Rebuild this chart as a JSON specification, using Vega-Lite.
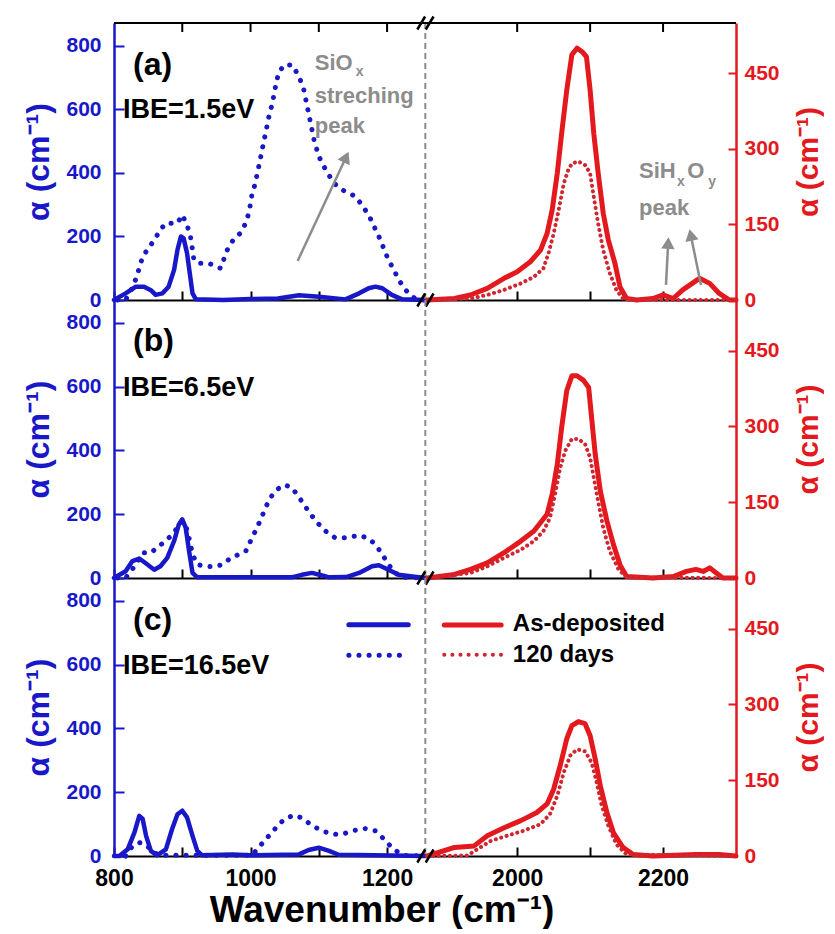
{
"$schema":"https://vega.github.io/schema/vega-lite/v6.json",
"background":"white",
"padding":{"left":22,"top":11,"right":0,"bottom":0},
"spacing":0,
"columns":2,
"bounds":"flush",
"config":{"view":{"stroke":null},"axis":{"grid":false,"labelFlush":false,"labelFont":"Liberation Sans","titleFont":"Liberation Sans","labelFontWeight":"bold","titleFontWeight":"bold","labelOverlap":false},"text":{"font":"Liberation Sans","fontWeight":"bold"},"concat":{"spacing":0}},
"title":{"text":"Wavenumber (cm⁻¹)","orient":"bottom","anchor":"middle","font":"Liberation Sans","fontWeight":"bold","fontSize":37,"color":"#000","offset":3,"dx":-41},
"datasets":{
"a_left_asdep":[{"wn":800,"alpha":0},{"wn":817,"alpha":21},{"wn":832,"alpha":42},{"wn":844,"alpha":42},{"wn":854,"alpha":31},{"wn":861,"alpha":16},{"wn":871,"alpha":21},{"wn":880,"alpha":42},{"wn":888,"alpha":95},{"wn":893,"alpha":158},{"wn":898,"alpha":200},{"wn":902,"alpha":194},{"wn":907,"alpha":147},{"wn":911,"alpha":84},{"wn":915,"alpha":21},{"wn":920,"alpha":2},{"wn":960,"alpha":0},{"wn":1000,"alpha":3},{"wn":1040,"alpha":5},{"wn":1071,"alpha":15},{"wn":1100,"alpha":10},{"wn":1139,"alpha":2},{"wn":1159,"alpha":21},{"wn":1173,"alpha":37},{"wn":1183,"alpha":42},{"wn":1193,"alpha":37},{"wn":1207,"alpha":16},{"wn":1222,"alpha":2},{"wn":1257,"alpha":0}],
"a_left_120d":[{"wn":805,"alpha":0},{"wn":817,"alpha":0},{"wn":829,"alpha":47},{"wn":837,"alpha":100},{"wn":842,"alpha":137},{"wn":849,"alpha":158},{"wn":859,"alpha":189},{"wn":868,"alpha":221},{"wn":876,"alpha":242},{"wn":885,"alpha":242},{"wn":893,"alpha":242},{"wn":900,"alpha":268},{"wn":907,"alpha":236},{"wn":912,"alpha":200},{"wn":915,"alpha":158},{"wn":917,"alpha":126},{"wn":924,"alpha":116},{"wn":937,"alpha":116},{"wn":946,"alpha":110},{"wn":956,"alpha":100},{"wn":966,"alpha":158},{"wn":976,"alpha":194},{"wn":985,"alpha":210},{"wn":993,"alpha":242},{"wn":998,"alpha":278},{"wn":1002,"alpha":331},{"wn":1007,"alpha":368},{"wn":1012,"alpha":420},{"wn":1017,"alpha":473},{"wn":1022,"alpha":525},{"wn":1027,"alpha":578},{"wn":1032,"alpha":620},{"wn":1037,"alpha":677},{"wn":1041,"alpha":714},{"wn":1049,"alpha":740},{"wn":1061,"alpha":740},{"wn":1071,"alpha":704},{"wn":1078,"alpha":662},{"wn":1083,"alpha":609},{"wn":1088,"alpha":557},{"wn":1093,"alpha":504},{"wn":1100,"alpha":452},{"wn":1110,"alpha":410},{"wn":1122,"alpha":368},{"wn":1134,"alpha":347},{"wn":1144,"alpha":336},{"wn":1154,"alpha":326},{"wn":1163,"alpha":299},{"wn":1173,"alpha":268},{"wn":1180,"alpha":236},{"wn":1188,"alpha":200},{"wn":1195,"alpha":163},{"wn":1202,"alpha":126},{"wn":1210,"alpha":95},{"wn":1217,"alpha":63},{"wn":1227,"alpha":32},{"wn":1237,"alpha":10},{"wn":1246,"alpha":0},{"wn":1257,"alpha":0}],
"a_right_asdep":[{"wn":1877,"alpha":0},{"wn":1914,"alpha":3},{"wn":1936,"alpha":10},{"wn":1959,"alpha":23},{"wn":1982,"alpha":43},{"wn":2000,"alpha":56},{"wn":2018,"alpha":76},{"wn":2032,"alpha":99},{"wn":2041,"alpha":132},{"wn":2048,"alpha":179},{"wn":2055,"alpha":252},{"wn":2061,"alpha":331},{"wn":2068,"alpha":417},{"wn":2075,"alpha":487},{"wn":2082,"alpha":500},{"wn":2089,"alpha":493},{"wn":2095,"alpha":483},{"wn":2100,"alpha":417},{"wn":2105,"alpha":331},{"wn":2111,"alpha":252},{"wn":2118,"alpha":172},{"wn":2125,"alpha":119},{"wn":2134,"alpha":73},{"wn":2141,"alpha":26},{"wn":2150,"alpha":3},{"wn":2164,"alpha":0},{"wn":2186,"alpha":3},{"wn":2200,"alpha":10},{"wn":2214,"alpha":3},{"wn":2227,"alpha":20},{"wn":2250,"alpha":43},{"wn":2264,"alpha":33},{"wn":2277,"alpha":13},{"wn":2291,"alpha":0},{"wn":2300,"alpha":0}],
"a_right_120d":[{"wn":1877,"alpha":0},{"wn":1936,"alpha":3},{"wn":1959,"alpha":10},{"wn":1982,"alpha":20},{"wn":2005,"alpha":33},{"wn":2023,"alpha":46},{"wn":2036,"alpha":63},{"wn":2043,"alpha":93},{"wn":2050,"alpha":132},{"wn":2057,"alpha":179},{"wn":2064,"alpha":232},{"wn":2070,"alpha":258},{"wn":2075,"alpha":271},{"wn":2084,"alpha":275},{"wn":2093,"alpha":268},{"wn":2100,"alpha":252},{"wn":2105,"alpha":205},{"wn":2111,"alpha":152},{"wn":2118,"alpha":99},{"wn":2127,"alpha":53},{"wn":2136,"alpha":20},{"wn":2145,"alpha":3},{"wn":2159,"alpha":0},{"wn":2300,"alpha":0}],
"b_left_asdep":[{"wn":800,"alpha":0},{"wn":817,"alpha":21},{"wn":827,"alpha":53},{"wn":837,"alpha":61},{"wn":846,"alpha":47},{"wn":859,"alpha":26},{"wn":868,"alpha":37},{"wn":878,"alpha":63},{"wn":888,"alpha":116},{"wn":895,"alpha":168},{"wn":900,"alpha":184},{"wn":905,"alpha":158},{"wn":910,"alpha":84},{"wn":915,"alpha":16},{"wn":922,"alpha":2},{"wn":1000,"alpha":2},{"wn":1060,"alpha":2},{"wn":1075,"alpha":10},{"wn":1090,"alpha":16},{"wn":1105,"alpha":8},{"wn":1115,"alpha":2},{"wn":1140,"alpha":3},{"wn":1159,"alpha":16},{"wn":1178,"alpha":37},{"wn":1188,"alpha":40},{"wn":1202,"alpha":26},{"wn":1217,"alpha":10},{"wn":1237,"alpha":5},{"wn":1257,"alpha":0}],
"b_left_120d":[{"wn":805,"alpha":0},{"wn":817,"alpha":0},{"wn":832,"alpha":42},{"wn":842,"alpha":79},{"wn":854,"alpha":79},{"wn":866,"alpha":100},{"wn":878,"alpha":121},{"wn":888,"alpha":142},{"wn":895,"alpha":168},{"wn":900,"alpha":179},{"wn":906,"alpha":158},{"wn":911,"alpha":116},{"wn":915,"alpha":74},{"wn":922,"alpha":42},{"wn":934,"alpha":37},{"wn":946,"alpha":35},{"wn":959,"alpha":42},{"wn":971,"alpha":63},{"wn":983,"alpha":74},{"wn":993,"alpha":84},{"wn":1000,"alpha":116},{"wn":1007,"alpha":147},{"wn":1015,"alpha":184},{"wn":1022,"alpha":221},{"wn":1029,"alpha":252},{"wn":1039,"alpha":278},{"wn":1049,"alpha":292},{"wn":1059,"alpha":286},{"wn":1068,"alpha":263},{"wn":1078,"alpha":231},{"wn":1088,"alpha":200},{"wn":1098,"alpha":173},{"wn":1110,"alpha":147},{"wn":1124,"alpha":126},{"wn":1139,"alpha":126},{"wn":1159,"alpha":134},{"wn":1173,"alpha":124},{"wn":1183,"alpha":105},{"wn":1193,"alpha":74},{"wn":1202,"alpha":42},{"wn":1212,"alpha":16},{"wn":1222,"alpha":2},{"wn":1257,"alpha":0}],
"b_right_asdep":[{"wn":1877,"alpha":0},{"wn":1914,"alpha":7},{"wn":1936,"alpha":17},{"wn":1959,"alpha":30},{"wn":1982,"alpha":50},{"wn":2005,"alpha":73},{"wn":2023,"alpha":93},{"wn":2041,"alpha":126},{"wn":2048,"alpha":166},{"wn":2055,"alpha":225},{"wn":2061,"alpha":298},{"wn":2068,"alpha":371},{"wn":2075,"alpha":400},{"wn":2082,"alpha":400},{"wn":2091,"alpha":391},{"wn":2098,"alpha":377},{"wn":2102,"alpha":318},{"wn":2107,"alpha":245},{"wn":2114,"alpha":172},{"wn":2123,"alpha":113},{"wn":2132,"alpha":66},{"wn":2141,"alpha":26},{"wn":2150,"alpha":3},{"wn":2186,"alpha":0},{"wn":2214,"alpha":3},{"wn":2232,"alpha":13},{"wn":2245,"alpha":17},{"wn":2255,"alpha":13},{"wn":2264,"alpha":20},{"wn":2273,"alpha":10},{"wn":2282,"alpha":0},{"wn":2300,"alpha":0}],
"b_right_120d":[{"wn":1877,"alpha":0},{"wn":1936,"alpha":10},{"wn":1959,"alpha":23},{"wn":1982,"alpha":40},{"wn":2005,"alpha":56},{"wn":2023,"alpha":73},{"wn":2036,"alpha":93},{"wn":2045,"alpha":119},{"wn":2052,"alpha":166},{"wn":2059,"alpha":218},{"wn":2066,"alpha":252},{"wn":2075,"alpha":275},{"wn":2084,"alpha":275},{"wn":2093,"alpha":265},{"wn":2100,"alpha":238},{"wn":2105,"alpha":199},{"wn":2111,"alpha":152},{"wn":2118,"alpha":99},{"wn":2127,"alpha":53},{"wn":2139,"alpha":17},{"wn":2150,"alpha":1},{"wn":2300,"alpha":0}],
"c_left_asdep":[{"wn":800,"alpha":0},{"wn":808,"alpha":0},{"wn":820,"alpha":21},{"wn":830,"alpha":74},{"wn":837,"alpha":126},{"wn":842,"alpha":116},{"wn":847,"alpha":63},{"wn":854,"alpha":16},{"wn":863,"alpha":2},{"wn":876,"alpha":21},{"wn":885,"alpha":84},{"wn":893,"alpha":131},{"wn":900,"alpha":142},{"wn":907,"alpha":121},{"wn":915,"alpha":63},{"wn":922,"alpha":16},{"wn":929,"alpha":2},{"wn":973,"alpha":5},{"wn":1000,"alpha":2},{"wn":1071,"alpha":5},{"wn":1085,"alpha":19},{"wn":1100,"alpha":26},{"wn":1115,"alpha":16},{"wn":1129,"alpha":4},{"wn":1257,"alpha":0}],
"c_left_120d":[{"wn":817,"alpha":0},{"wn":827,"alpha":31},{"wn":837,"alpha":42},{"wn":846,"alpha":37},{"wn":856,"alpha":16},{"wn":866,"alpha":2},{"wn":1002,"alpha":2},{"wn":1012,"alpha":26},{"wn":1022,"alpha":53},{"wn":1032,"alpha":74},{"wn":1041,"alpha":100},{"wn":1054,"alpha":121},{"wn":1066,"alpha":128},{"wn":1078,"alpha":116},{"wn":1090,"alpha":95},{"wn":1105,"alpha":79},{"wn":1120,"alpha":68},{"wn":1134,"alpha":68},{"wn":1149,"alpha":79},{"wn":1168,"alpha":86},{"wn":1183,"alpha":79},{"wn":1193,"alpha":58},{"wn":1205,"alpha":31},{"wn":1217,"alpha":10},{"wn":1227,"alpha":2},{"wn":1257,"alpha":0}],
"c_right_asdep":[{"wn":1877,"alpha":0},{"wn":1914,"alpha":17},{"wn":1941,"alpha":20},{"wn":1959,"alpha":40},{"wn":1982,"alpha":56},{"wn":2005,"alpha":70},{"wn":2027,"alpha":86},{"wn":2041,"alpha":103},{"wn":2050,"alpha":132},{"wn":2059,"alpha":179},{"wn":2068,"alpha":232},{"wn":2075,"alpha":258},{"wn":2084,"alpha":266},{"wn":2093,"alpha":262},{"wn":2100,"alpha":238},{"wn":2107,"alpha":192},{"wn":2114,"alpha":139},{"wn":2123,"alpha":86},{"wn":2132,"alpha":46},{"wn":2145,"alpha":17},{"wn":2159,"alpha":3},{"wn":2186,"alpha":0},{"wn":2245,"alpha":3},{"wn":2277,"alpha":3},{"wn":2300,"alpha":0}],
"c_right_120d":[{"wn":1877,"alpha":0},{"wn":1932,"alpha":1},{"wn":1945,"alpha":13},{"wn":1964,"alpha":30},{"wn":1986,"alpha":40},{"wn":2009,"alpha":50},{"wn":2032,"alpha":63},{"wn":2045,"alpha":83},{"wn":2055,"alpha":119},{"wn":2064,"alpha":166},{"wn":2073,"alpha":199},{"wn":2082,"alpha":211},{"wn":2093,"alpha":207},{"wn":2102,"alpha":185},{"wn":2109,"alpha":146},{"wn":2116,"alpha":99},{"wn":2125,"alpha":60},{"wn":2136,"alpha":23},{"wn":2150,"alpha":3},{"wn":2300,"alpha":0}],
"legend":[{"side":"L","sample":"As-deposited","wn":1144,"alpha":725},{"side":"L","sample":"As-deposited","wn":1231,"alpha":725},{"side":"L","sample":"120 days","wn":1144,"alpha":630},{"side":"L","sample":"120 days","wn":1231,"alpha":630},{"side":"R","sample":"As-deposited","wn":1900,"alpha":457},{"side":"R","sample":"As-deposited","wn":1978,"alpha":457},{"side":"R","sample":"120 days","wn":1900,"alpha":398},{"side":"R","sample":"120 days","wn":1978,"alpha":398}],
"topticks":[{"side":"L","wn":900},{"side":"L","wn":1000},{"side":"L","wn":1100},{"side":"L","wn":1200},{"side":"R","wn":2000},{"side":"R","wn":2100},{"side":"R","wn":2200}],
"notes":[
{"panel":"a","side":"L","kind":"tag","text":"(a)","wn":828,"alpha":740},
{"panel":"a","side":"L","kind":"ibe","text":"IBE=1.5eV","wn":813,"alpha":598},
{"panel":"b","side":"L","kind":"tag","text":"(b)","wn":828,"alpha":742},
{"panel":"b","side":"L","kind":"ibe","text":"IBE=6.5eV","wn":813,"alpha":597},
{"panel":"c","side":"L","kind":"tag","text":"(c)","wn":828,"alpha":740},
{"panel":"c","side":"L","kind":"ibe","text":"IBE=16.5eV","wn":813,"alpha":596},
{"panel":"a","side":"L","kind":"note","text":"SiO","wn":1094,"alpha":724},
{"panel":"a","side":"L","kind":"sub","text":"x","wn":1154,"alpha":705},
{"panel":"a","side":"L","kind":"note","text":"streching","wn":1094,"alpha":620},
{"panel":"a","side":"L","kind":"note","text":"peak","wn":1094,"alpha":526},
{"panel":"a","side":"R","kind":"note","text":"SiH","wn":2167,"alpha":242},
{"panel":"a","side":"R","kind":"sub","text":"x","wn":2219,"alpha":226},
{"panel":"a","side":"R","kind":"note","text":"O","wn":2233,"alpha":242},
{"panel":"a","side":"R","kind":"sub","text":"y","wn":2262,"alpha":226},
{"panel":"a","side":"R","kind":"note","text":"peak","wn":2167,"alpha":169},
{"panel":"c","side":"R","kind":"leg","text":"As-deposited","wn":1994,"alpha":459},
{"panel":"c","side":"R","kind":"leg","text":"120 days","wn":1994,"alpha":398}
],
"breaks":[
{"panel":"a","side":"L","wn":1250,"alpha":872},{"panel":"a","side":"L","wn":1250,"alpha":0},{"panel":"b","side":"L","wn":1250,"alpha":0},{"panel":"c","side":"L","wn":1250,"alpha":0},
{"panel":"a","side":"R","wn":1880,"alpha":550},{"panel":"a","side":"R","wn":1880,"alpha":0},{"panel":"b","side":"R","wn":1880,"alpha":0},{"panel":"c","side":"R","wn":1880,"alpha":0}
],
"arrows":[{"id":1,"wn":1069,"alpha":123,"wn2":1140,"alpha2":450},{"id":2,"wn":2204,"alpha":30,"wn2":2207,"alpha2":113},{"id":3,"wn":2252,"alpha":30,"wn2":2238,"alpha2":129}]
},
"concat":[
{"width":312,"height":277,"layer":[
{"data":{"name":"a_left_asdep"},"mark":{"type":"line","color":"#1818c8","strokeWidth":4.5,"strokeCap":"round","strokeJoin":"round"},
"encoding":{"x":{"field":"wn","type":"quantitative","scale":{"domain":[800,1257],"nice":false,"zero":false},"axis":{"orient":"bottom","values":[800,900,1000,1100,1200],"labels":false,"title":null,"domainColor":"#000","domainWidth":2,"tickColor":"#000","tickWidth":2,"tickSize":-9}},
"y":{"field":"alpha","type":"quantitative","scale":{"domain":[0,872],"nice":false},"axis":{"orient":"left","values":[0,100,200,300,400,500,600,700,800],"labelExpr":"datum.value % 200 == 0 ? datum.label : ''","labelFontSize":21,"labelColor":"#1818c8","labelPadding":23,"title":"α (cm⁻¹)","titleFontSize":32,"titleColor":"#1818c8","titlePadding":10,"domainColor":"#1818c8","domainWidth":2.5,"tickColor":"#1818c8","tickWidth":2,"tickSize":-10}}}},
{"data":{"name":"a_left_120d"},"mark":{"type":"line","color":"#1818c8","strokeWidth":5,"strokeCap":"round","strokeDash":[0.1,10]},"encoding":{"x":{"field":"wn","type":"quantitative"},"y":{"field":"alpha","type":"quantitative"}}},
{"data":{"values":[{}]},"mark":{"type":"rule","color":"#8c8c8c","strokeWidth":2,"strokeDash":[6,4]},"encoding":{"x":{"datum":1256}}},
{"data":{"values":[{}]},"mark":{"type":"rule","color":"#000","strokeWidth":2},"encoding":{"y":{"datum":872}}},
{"data":{"name":"topticks"},"transform":[{"filter":"datum.side=='L'"}],"mark":{"type":"tick","orient":"vertical","color":"#000","thickness":2,"size":9,"yOffset":4.5,"opacity":1},"encoding":{"x":{"field":"wn","type":"quantitative"},"y":{"datum":872}}},
{"data":{"name":"breaks"},"transform":[{"filter":"datum.panel=='a' && datum.side=='L'"}],"mark":{"type":"point","shape":"M-0.6,1L0.6,-1","size":169,"filled":false,"strokeWidth":2.5,"color":"#000","opacity":1},"encoding":{"x":{"field":"wn","type":"quantitative"},"y":{"field":"alpha","type":"quantitative"}}},
{"data":{"name":"notes"},"transform":[{"filter":"datum.panel=='a' && datum.side=='L' && datum.kind=='tag'"}],"mark":{"type":"text","fontSize":32,"align":"left","baseline":"middle","color":"#000"},"encoding":{"x":{"field":"wn","type":"quantitative"},"y":{"field":"alpha","type":"quantitative"},"text":{"field":"text"}}},
{"data":{"name":"notes"},"transform":[{"filter":"datum.panel=='a' && datum.side=='L' && datum.kind=='ibe'"}],"mark":{"type":"text","fontSize":27,"align":"left","baseline":"middle","color":"#000"},"encoding":{"x":{"field":"wn","type":"quantitative"},"y":{"field":"alpha","type":"quantitative"},"text":{"field":"text"}}},
{"data":{"name":"notes"},"transform":[{"filter":"datum.panel=='a' && datum.side=='L' && datum.kind=='note'"}],"mark":{"type":"text","fontSize":22,"align":"left","baseline":"alphabetic","color":"#8c8c8c"},"encoding":{"x":{"field":"wn","type":"quantitative"},"y":{"field":"alpha","type":"quantitative"},"text":{"field":"text"}}},
{"data":{"name":"notes"},"transform":[{"filter":"datum.panel=='a' && datum.side=='L' && datum.kind=='sub'"}],"mark":{"type":"text","fontSize":14,"align":"left","baseline":"alphabetic","color":"#8c8c8c"},"encoding":{"x":{"field":"wn","type":"quantitative"},"y":{"field":"alpha","type":"quantitative"},"text":{"field":"text"}}},
{"data":{"name":"arrows"},"transform":[{"filter":"datum.id==1"}],"mark":{"type":"rule","color":"#8c8c8c","strokeWidth":2.5},"encoding":{"x":{"field":"wn","type":"quantitative"},"y":{"field":"alpha","type":"quantitative"},"x2":{"field":"wn2"},"y2":{"field":"alpha2"}}},
{"data":{"name":"arrows"},"transform":[{"filter":"datum.id==1"}],"mark":{"type":"point","shape":"triangle-up","size":180,"filled":true,"color":"#8c8c8c","opacity":1,"angle":25},"encoding":{"x":{"field":"wn2","type":"quantitative"},"y":{"field":"alpha2","type":"quantitative"}}}
]},
{"width":310,"height":277,"layer":[
{"data":{"name":"a_right_asdep"},"mark":{"type":"line","color":"#e3191e","strokeWidth":5,"strokeCap":"round","strokeJoin":"round"},
"encoding":{"x":{"field":"wn","type":"quantitative","scale":{"domain":[1875,2300],"nice":false,"zero":false},"axis":{"orient":"bottom","values":[2000,2100,2200],"labels":false,"title":null,"domainColor":"#000","domainWidth":2,"tickColor":"#000","tickWidth":2,"tickSize":-9}},
"y":{"field":"alpha","type":"quantitative","scale":{"domain":[0,550],"nice":false},"axis":{"orient":"right","values":[0,75,150,225,300,375,450,525],"labelExpr":"datum.value % 150 == 0 ? datum.label : ''","labelFontSize":21,"labelColor":"#e3191e","labelPadding":16,"title":"α (cm⁻¹)","titleAngle":270,"titleBaseline":"top","titleFontSize":30,"titleColor":"#e3191e","titlePadding":14,"domainColor":"#e3191e","domainWidth":2.5,"tickColor":"#e3191e","tickWidth":2,"tickSize":-8}}}},
{"data":{"name":"a_right_120d"},"mark":{"type":"line","color":"#cf2630","strokeWidth":4,"strokeCap":"round","strokeDash":[0.1,5.5]},"encoding":{"x":{"field":"wn","type":"quantitative"},"y":{"field":"alpha","type":"quantitative"}}},
{"data":{"values":[{}]},"mark":{"type":"rule","color":"#000","strokeWidth":2},"encoding":{"y":{"datum":550}}},
{"data":{"name":"topticks"},"transform":[{"filter":"datum.side=='R'"}],"mark":{"type":"tick","orient":"vertical","color":"#000","thickness":2,"size":9,"yOffset":4.5,"opacity":1},"encoding":{"x":{"field":"wn","type":"quantitative"},"y":{"datum":550}}},
{"data":{"name":"breaks"},"transform":[{"filter":"datum.panel=='a' && datum.side=='R'"}],"mark":{"type":"point","shape":"M-0.6,1L0.6,-1","size":169,"filled":false,"strokeWidth":2.5,"color":"#000","opacity":1},"encoding":{"x":{"field":"wn","type":"quantitative"},"y":{"field":"alpha","type":"quantitative"}}},
{"data":{"name":"notes"},"transform":[{"filter":"datum.panel=='a' && datum.side=='R' && datum.kind=='note'"}],"mark":{"type":"text","fontSize":22,"align":"left","baseline":"alphabetic","color":"#8c8c8c"},"encoding":{"x":{"field":"wn","type":"quantitative"},"y":{"field":"alpha","type":"quantitative"},"text":{"field":"text"}}},
{"data":{"name":"notes"},"transform":[{"filter":"datum.panel=='a' && datum.side=='R' && datum.kind=='sub'"}],"mark":{"type":"text","fontSize":14,"align":"left","baseline":"alphabetic","color":"#8c8c8c"},"encoding":{"x":{"field":"wn","type":"quantitative"},"y":{"field":"alpha","type":"quantitative"},"text":{"field":"text"}}},
{"data":{"name":"arrows"},"transform":[{"filter":"datum.id>1"}],"mark":{"type":"rule","color":"#8c8c8c","strokeWidth":2.5},"encoding":{"x":{"field":"wn","type":"quantitative"},"y":{"field":"alpha","type":"quantitative"},"x2":{"field":"wn2"},"y2":{"field":"alpha2"}}},
{"data":{"name":"arrows"},"transform":[{"filter":"datum.id==2"}],"mark":{"type":"point","shape":"triangle-up","size":180,"filled":true,"color":"#8c8c8c","opacity":1,"angle":3},"encoding":{"x":{"field":"wn2","type":"quantitative"},"y":{"field":"alpha2","type":"quantitative"}}},
{"data":{"name":"arrows"},"transform":[{"filter":"datum.id==3"}],"mark":{"type":"point","shape":"triangle-up","size":180,"filled":true,"color":"#8c8c8c","opacity":1,"angle":-12},"encoding":{"x":{"field":"wn2","type":"quantitative"},"y":{"field":"alpha2","type":"quantitative"}}}
]},
{"width":312,"height":278,"layer":[
{"data":{"name":"b_left_asdep"},"mark":{"type":"line","color":"#1818c8","strokeWidth":4.5,"strokeCap":"round","strokeJoin":"round"},
"encoding":{"x":{"field":"wn","type":"quantitative","scale":{"domain":[800,1257],"nice":false,"zero":false},"axis":{"orient":"bottom","values":[800,900,1000,1100,1200],"labels":false,"title":null,"domainColor":"#000","domainWidth":2,"tickColor":"#000","tickWidth":2,"tickSize":-9}},
"y":{"field":"alpha","type":"quantitative","scale":{"domain":[0,872],"nice":false},"axis":{"orient":"left","values":[0,100,200,300,400,500,600,700,800],"labelExpr":"datum.value % 200 == 0 ? datum.label : ''","labelFontSize":21,"labelColor":"#1818c8","labelPadding":23,"title":"α (cm⁻¹)","titleFontSize":32,"titleColor":"#1818c8","titlePadding":10,"domainColor":"#1818c8","domainWidth":2.5,"tickColor":"#1818c8","tickWidth":2,"tickSize":-10}}}},
{"data":{"name":"b_left_120d"},"mark":{"type":"line","color":"#1818c8","strokeWidth":5,"strokeCap":"round","strokeDash":[0.1,10]},"encoding":{"x":{"field":"wn","type":"quantitative"},"y":{"field":"alpha","type":"quantitative"}}},
{"data":{"values":[{}]},"mark":{"type":"rule","color":"#8c8c8c","strokeWidth":2,"strokeDash":[6,4]},"encoding":{"x":{"datum":1256}}},
{"data":{"name":"breaks"},"transform":[{"filter":"datum.panel=='b' && datum.side=='L'"}],"mark":{"type":"point","shape":"M-0.6,1L0.6,-1","size":169,"filled":false,"strokeWidth":2.5,"color":"#000","opacity":1},"encoding":{"x":{"field":"wn","type":"quantitative"},"y":{"field":"alpha","type":"quantitative"}}},
{"data":{"name":"notes"},"transform":[{"filter":"datum.panel=='b' && datum.side=='L' && datum.kind=='tag'"}],"mark":{"type":"text","fontSize":32,"align":"left","baseline":"middle","color":"#000"},"encoding":{"x":{"field":"wn","type":"quantitative"},"y":{"field":"alpha","type":"quantitative"},"text":{"field":"text"}}},
{"data":{"name":"notes"},"transform":[{"filter":"datum.panel=='b' && datum.side=='L' && datum.kind=='ibe'"}],"mark":{"type":"text","fontSize":27,"align":"left","baseline":"middle","color":"#000"},"encoding":{"x":{"field":"wn","type":"quantitative"},"y":{"field":"alpha","type":"quantitative"},"text":{"field":"text"}}}
]},
{"width":310,"height":278,"layer":[
{"data":{"name":"b_right_asdep"},"mark":{"type":"line","color":"#e3191e","strokeWidth":5,"strokeCap":"round","strokeJoin":"round"},
"encoding":{"x":{"field":"wn","type":"quantitative","scale":{"domain":[1875,2300],"nice":false,"zero":false},"axis":{"orient":"bottom","values":[2000,2100,2200],"labels":false,"title":null,"domainColor":"#000","domainWidth":2,"tickColor":"#000","tickWidth":2,"tickSize":-9}},
"y":{"field":"alpha","type":"quantitative","scale":{"domain":[0,550],"nice":false},"axis":{"orient":"right","values":[0,75,150,225,300,375,450,525],"labelExpr":"datum.value % 150 == 0 ? datum.label : ''","labelFontSize":21,"labelColor":"#e3191e","labelPadding":16,"title":"α (cm⁻¹)","titleAngle":270,"titleBaseline":"top","titleFontSize":30,"titleColor":"#e3191e","titlePadding":14,"domainColor":"#e3191e","domainWidth":2.5,"tickColor":"#e3191e","tickWidth":2,"tickSize":-8}}}},
{"data":{"name":"b_right_120d"},"mark":{"type":"line","color":"#cf2630","strokeWidth":4,"strokeCap":"round","strokeDash":[0.1,5.5]},"encoding":{"x":{"field":"wn","type":"quantitative"},"y":{"field":"alpha","type":"quantitative"}}},
{"data":{"name":"breaks"},"transform":[{"filter":"datum.panel=='b' && datum.side=='R'"}],"mark":{"type":"point","shape":"M-0.6,1L0.6,-1","size":169,"filled":false,"strokeWidth":2.5,"color":"#000","opacity":1},"encoding":{"x":{"field":"wn","type":"quantitative"},"y":{"field":"alpha","type":"quantitative"}}}
]},
{"width":312,"height":278,"layer":[
{"data":{"name":"c_left_asdep"},"mark":{"type":"line","color":"#1818c8","strokeWidth":4.5,"strokeCap":"round","strokeJoin":"round"},
"encoding":{"x":{"field":"wn","type":"quantitative","scale":{"domain":[800,1257],"nice":false,"zero":false},"axis":{"orient":"bottom","values":[800,900,1000,1100,1200],"labelExpr":"datum.value % 200 == 0 ? datum.label : ''","format":"d","labelFontSize":23,"labelColor":"#000","labelPadding":20,"title":null,"domainColor":"#000","domainWidth":2,"tickColor":"#000","tickWidth":2,"tickSize":-9}},
"y":{"field":"alpha","type":"quantitative","scale":{"domain":[0,872],"nice":false},"axis":{"orient":"left","values":[0,100,200,300,400,500,600,700,800],"labelExpr":"datum.value % 200 == 0 ? datum.label : ''","labelFontSize":21,"labelColor":"#1818c8","labelPadding":23,"title":"α (cm⁻¹)","titleFontSize":32,"titleColor":"#1818c8","titlePadding":10,"domainColor":"#1818c8","domainWidth":2.5,"tickColor":"#1818c8","tickWidth":2,"tickSize":-10}}}},
{"data":{"name":"c_left_120d"},"mark":{"type":"line","color":"#1818c8","strokeWidth":5,"strokeCap":"round","strokeDash":[0.1,10]},"encoding":{"x":{"field":"wn","type":"quantitative"},"y":{"field":"alpha","type":"quantitative"}}},
{"data":{"values":[{}]},"mark":{"type":"rule","color":"#8c8c8c","strokeWidth":2,"strokeDash":[6,4]},"encoding":{"x":{"datum":1256}}},
{"data":{"name":"breaks"},"transform":[{"filter":"datum.panel=='c' && datum.side=='L'"}],"mark":{"type":"point","shape":"M-0.6,1L0.6,-1","size":169,"filled":false,"strokeWidth":2.5,"color":"#000","opacity":1},"encoding":{"x":{"field":"wn","type":"quantitative"},"y":{"field":"alpha","type":"quantitative"}}},
{"data":{"name":"notes"},"transform":[{"filter":"datum.panel=='c' && datum.side=='L' && datum.kind=='tag'"}],"mark":{"type":"text","fontSize":32,"align":"left","baseline":"middle","color":"#000"},"encoding":{"x":{"field":"wn","type":"quantitative"},"y":{"field":"alpha","type":"quantitative"},"text":{"field":"text"}}},
{"data":{"name":"notes"},"transform":[{"filter":"datum.panel=='c' && datum.side=='L' && datum.kind=='ibe'"}],"mark":{"type":"text","fontSize":27,"align":"left","baseline":"middle","color":"#000"},"encoding":{"x":{"field":"wn","type":"quantitative"},"y":{"field":"alpha","type":"quantitative"},"text":{"field":"text"}}},
{"data":{"name":"legend"},"transform":[{"filter":"datum.side=='L' && datum.sample=='As-deposited'"}],"mark":{"type":"line","color":"#1818c8","strokeWidth":5,"strokeCap":"round"},"encoding":{"x":{"field":"wn","type":"quantitative"},"y":{"field":"alpha","type":"quantitative"}}},
{"data":{"name":"legend"},"transform":[{"filter":"datum.side=='L' && datum.sample=='120 days'"}],"mark":{"type":"line","color":"#1818c8","strokeWidth":5,"strokeCap":"round","strokeDash":[0.1,10]},"encoding":{"x":{"field":"wn","type":"quantitative"},"y":{"field":"alpha","type":"quantitative"}}}
]},
{"width":310,"height":278,"layer":[
{"data":{"name":"c_right_asdep"},"mark":{"type":"line","color":"#e3191e","strokeWidth":5,"strokeCap":"round","strokeJoin":"round"},
"encoding":{"x":{"field":"wn","type":"quantitative","scale":{"domain":[1875,2300],"nice":false,"zero":false},"axis":{"orient":"bottom","values":[2000,2100,2200],"labelExpr":"datum.value % 200 == 0 ? datum.label : ''","format":"d","labelFontSize":23,"labelColor":"#000","labelPadding":20,"title":null,"domainColor":"#000","domainWidth":2,"tickColor":"#000","tickWidth":2,"tickSize":-9}},
"y":{"field":"alpha","type":"quantitative","scale":{"domain":[0,550],"nice":false},"axis":{"orient":"right","values":[0,75,150,225,300,375,450,525],"labelExpr":"datum.value % 150 == 0 ? datum.label : ''","labelFontSize":21,"labelColor":"#e3191e","labelPadding":16,"title":"α (cm⁻¹)","titleAngle":270,"titleBaseline":"top","titleFontSize":30,"titleColor":"#e3191e","titlePadding":14,"domainColor":"#e3191e","domainWidth":2.5,"tickColor":"#e3191e","tickWidth":2,"tickSize":-8}}}},
{"data":{"name":"c_right_120d"},"mark":{"type":"line","color":"#cf2630","strokeWidth":4,"strokeCap":"round","strokeDash":[0.1,5.5]},"encoding":{"x":{"field":"wn","type":"quantitative"},"y":{"field":"alpha","type":"quantitative"}}},
{"data":{"name":"breaks"},"transform":[{"filter":"datum.panel=='c' && datum.side=='R'"}],"mark":{"type":"point","shape":"M-0.6,1L0.6,-1","size":169,"filled":false,"strokeWidth":2.5,"color":"#000","opacity":1},"encoding":{"x":{"field":"wn","type":"quantitative"},"y":{"field":"alpha","type":"quantitative"}}},
{"data":{"name":"notes"},"transform":[{"filter":"datum.panel=='c' && datum.side=='R' && datum.kind=='leg'"}],"mark":{"type":"text","fontSize":24,"align":"left","baseline":"middle","color":"#000"},"encoding":{"x":{"field":"wn","type":"quantitative"},"y":{"field":"alpha","type":"quantitative"},"text":{"field":"text"}}},
{"data":{"name":"legend"},"transform":[{"filter":"datum.side=='R' && datum.sample=='As-deposited'"}],"mark":{"type":"line","color":"#e3191e","strokeWidth":5,"strokeCap":"round"},"encoding":{"x":{"field":"wn","type":"quantitative"},"y":{"field":"alpha","type":"quantitative"}}},
{"data":{"name":"legend"},"transform":[{"filter":"datum.side=='R' && datum.sample=='120 days'"}],"mark":{"type":"line","color":"#cf2630","strokeWidth":4,"strokeCap":"round","strokeDash":[0.1,8]},"encoding":{"x":{"field":"wn","type":"quantitative"},"y":{"field":"alpha","type":"quantitative"}}}
]}
]
}
